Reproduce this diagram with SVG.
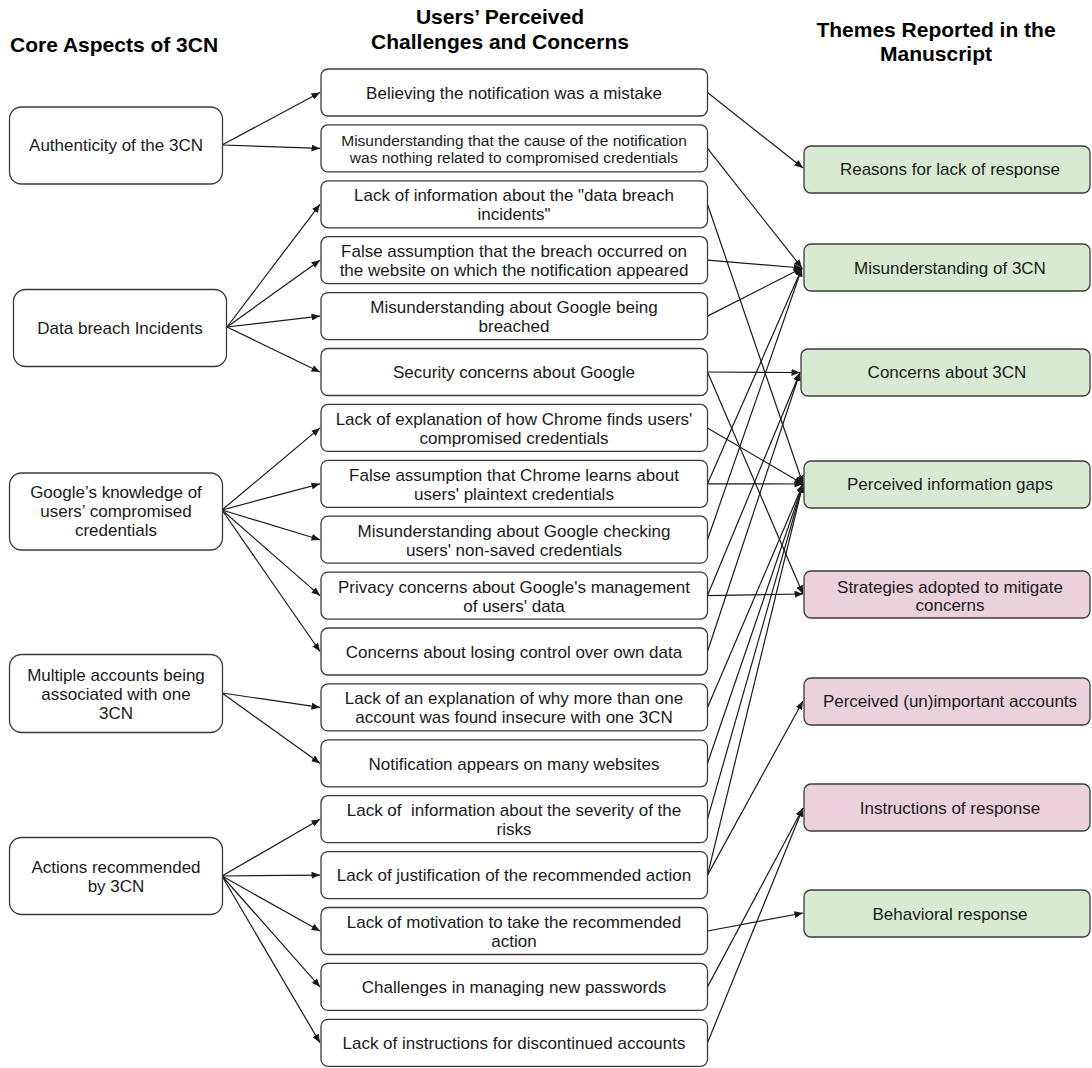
<svg xmlns="http://www.w3.org/2000/svg" width="1092" height="1068" viewBox="0 0 1092 1068">
<style>
.bg{fill:#fff}
.box{fill:#fff;stroke:#3c3c3c;stroke-width:1.3}
.g{fill:#d9ead3;stroke:#3c3c3c;stroke-width:1.3}
.p{fill:#ead1dc;stroke:#3c3c3c;stroke-width:1.3}
text{font-family:"Liberation Sans",Arial,sans-serif;fill:#1a1a1a}
.t{font-size:17px;text-anchor:middle}
.ts{font-size:15.5px;text-anchor:middle}
.h{font-size:21px;font-weight:bold;fill:#000}
.hc{text-anchor:middle}
.c line{stroke:#1a1a1a;stroke-width:1.2;marker-end:url(#ah)}
</style>
<defs>
<marker id="ah" markerUnits="userSpaceOnUse" markerWidth="9" markerHeight="7" refX="8.5" refY="3.5" orient="auto">
<path d="M0,0 L8.5,3.5 L0,7 z" fill="#1a1a1a"/>
</marker>
</defs>
<rect class="bg" x="0" y="0" width="1092" height="1068"/>

<g id="headers">
<text class="h" x="10" y="52">Core Aspects of 3CN</text>
<text class="h hc" x="500" y="24">Users’ Perceived</text>
<text class="h hc" x="500" y="49">Challenges and Concerns</text>
<text class="h hc" x="936" y="37">Themes Reported in the</text>
<text class="h hc" x="936" y="61">Manuscript</text>
</g>

<g id="connectors" class="c">
<line x1="222" y1="145" x2="320" y2="92.5"/>
<line x1="222" y1="145" x2="320" y2="148.4"/>
<line x1="227" y1="327" x2="320" y2="204.3"/>
<line x1="227" y1="327" x2="320" y2="260.2"/>
<line x1="227" y1="327" x2="320" y2="316.1"/>
<line x1="227" y1="327" x2="320" y2="372"/>
<line x1="222" y1="510" x2="320" y2="427.9"/>
<line x1="222" y1="510" x2="320" y2="483.8"/>
<line x1="222" y1="510" x2="320" y2="539.7"/>
<line x1="222" y1="510" x2="320" y2="595.6"/>
<line x1="222" y1="510" x2="320" y2="651.5"/>
<line x1="222" y1="693" x2="320" y2="707.4"/>
<line x1="222" y1="693" x2="320" y2="763.3"/>
<line x1="222" y1="876" x2="320" y2="819.2"/>
<line x1="222" y1="876" x2="320" y2="875.1"/>
<line x1="222" y1="876" x2="320" y2="931"/>
<line x1="222" y1="876" x2="320" y2="986.9"/>
<line x1="222" y1="876" x2="320" y2="1042.8"/>

<line x1="707.5" y1="92.5" x2="803" y2="168"/>
<line x1="707.5" y1="148.4" x2="802" y2="268"/>
<line x1="707.5" y1="204.3" x2="803" y2="484"/>
<line x1="707.5" y1="260.2" x2="802" y2="268"/>
<line x1="707.5" y1="316.1" x2="802" y2="268"/>
<line x1="707.5" y1="372" x2="800" y2="372.5"/>
<line x1="707.5" y1="372" x2="803" y2="594"/>
<line x1="707.5" y1="427.9" x2="803" y2="484"/>
<line x1="707.5" y1="483.8" x2="803" y2="484"/>
<line x1="707.5" y1="483.8" x2="802" y2="268"/>
<line x1="707.5" y1="539.7" x2="802" y2="268"/>
<line x1="707.5" y1="595.6" x2="803" y2="594"/>
<line x1="707.5" y1="595.6" x2="800" y2="372.5"/>
<line x1="707.5" y1="651.5" x2="800" y2="372.5"/>
<line x1="707.5" y1="707.4" x2="803" y2="484"/>
<line x1="707.5" y1="763.3" x2="803" y2="484"/>
<line x1="707.5" y1="819.2" x2="803" y2="484"/>
<line x1="707.5" y1="875.1" x2="803" y2="484"/>
<line x1="707.5" y1="875.1" x2="803" y2="701"/>
<line x1="707.5" y1="931" x2="803" y2="913"/>
<line x1="707.5" y1="986.9" x2="803" y2="808"/>
<line x1="707.5" y1="1042.8" x2="803" y2="808"/>
</g>

<g id="left-authenticity"><rect class="box" x="9.5" y="107" width="213" height="77" rx="12"/><text class="t" x="116" y="151">Authenticity of the 3CN</text></g>
<g id="left-databreach"><rect class="box" x="13.5" y="289.5" width="213" height="77" rx="12"/><text class="t" x="120" y="334">Data breach Incidents</text></g>
<g id="left-google"><rect class="box" x="9.5" y="473" width="213" height="77" rx="12"/><text class="t" x="116" y="497.5">Google’s knowledge of</text><text class="t" x="116" y="517">users’ compromised</text><text class="t" x="116" y="536">credentials</text></g>
<g id="left-multiple"><rect class="box" x="9.5" y="654.5" width="213" height="78" rx="12"/><text class="t" x="116" y="681">Multiple accounts being</text><text class="t" x="116" y="700">associated with one</text><text class="t" x="116" y="719">3CN</text></g>
<g id="left-actions"><rect class="box" x="9.5" y="837.5" width="213" height="77" rx="12"/><text class="t" x="116" y="872.5">Actions recommended</text><text class="t" x="116" y="892">by 3CN</text></g>

<g id="m1"><rect class="box" x="321" y="69" width="386.5" height="47" rx="7"/><text class="t" x="514" y="98.5">Believing the notification was a mistake</text></g>
<g id="m2"><rect class="box" x="321" y="124.9" width="386.5" height="47" rx="7"/><text class="ts" x="514" y="146">Misunderstanding that the cause of the notification</text><text class="ts" x="514" y="163">was nothing related to compromised credentials</text></g>
<g id="m3"><rect class="box" x="321" y="180.8" width="386.5" height="47" rx="7"/><text class="t" x="514" y="201">Lack of information about the "data breach</text><text class="t" x="514" y="220">incidents"</text></g>
<g id="m4"><rect class="box" x="321" y="236.7" width="386.5" height="47" rx="7"/><text class="t" x="514" y="257">False assumption that the breach occurred on</text><text class="t" x="514" y="276">the website on which the notification appeared</text></g>
<g id="m5"><rect class="box" x="321" y="292.6" width="386.5" height="47" rx="7"/><text class="t" x="514" y="313">Misunderstanding about Google being</text><text class="t" x="514" y="332">breached</text></g>
<g id="m6"><rect class="box" x="321" y="348.5" width="386.5" height="47" rx="7"/><text class="t" x="514" y="378">Security concerns about Google</text></g>
<g id="m7"><rect class="box" x="321" y="404.4" width="386.5" height="47" rx="7"/><text class="t" x="514" y="424.5">Lack of explanation of how Chrome finds users'</text><text class="t" x="514" y="443.5">compromised credentials</text></g>
<g id="m8"><rect class="box" x="321" y="460.3" width="386.5" height="47" rx="7"/><text class="t" x="514" y="480.5">False assumption that Chrome learns about</text><text class="t" x="514" y="499.5">users' plaintext credentials</text></g>
<g id="m9"><rect class="box" x="321" y="516.2" width="386.5" height="47" rx="7"/><text class="t" x="514" y="536.5">Misunderstanding about Google checking</text><text class="t" x="514" y="555.5">users' non-saved credentials</text></g>
<g id="m10"><rect class="box" x="321" y="572.1" width="386.5" height="47" rx="7"/><text class="t" x="514" y="592.5">Privacy concerns about Google's management</text><text class="t" x="514" y="611.5">of users' data</text></g>
<g id="m11"><rect class="box" x="321" y="628" width="386.5" height="47" rx="7"/><text class="t" x="514" y="657.5">Concerns about losing control over own data</text></g>
<g id="m12"><rect class="box" x="321" y="683.9" width="386.5" height="47" rx="7"/><text class="t" x="514" y="704">Lack of an explanation of why more than one</text><text class="t" x="514" y="723">account was found insecure with one 3CN</text></g>
<g id="m13"><rect class="box" x="321" y="739.8" width="386.5" height="47" rx="7"/><text class="t" x="514" y="769.5">Notification appears on many websites</text></g>
<g id="m14"><rect class="box" x="321" y="795.7" width="386.5" height="47" rx="7"/><text class="t" x="514" y="816" xml:space="preserve">Lack of  information about the severity of the</text><text class="t" x="514" y="835">risks</text></g>
<g id="m15"><rect class="box" x="321" y="851.6" width="386.5" height="47" rx="7"/><text class="t" x="514" y="881">Lack of justification of the recommended action</text></g>
<g id="m16"><rect class="box" x="321" y="907.5" width="386.5" height="47" rx="7"/><text class="t" x="514" y="928">Lack of motivation to take the recommended</text><text class="t" x="514" y="947">action</text></g>
<g id="m17"><rect class="box" x="321" y="963.4" width="386.5" height="47" rx="7"/><text class="t" x="514" y="993">Challenges in managing new passwords</text></g>
<g id="m18"><rect class="box" x="321" y="1019.3" width="386.5" height="47" rx="7"/><text class="t" x="514" y="1049">Lack of instructions for discontinued accounts</text></g>

<g id="r-reasons"><rect class="g" x="804" y="146" width="286" height="47" rx="7"/><text class="t" x="950" y="175">Reasons for lack of response</text></g>
<g id="r-misunderstanding"><rect class="g" x="804" y="244" width="286" height="47" rx="7"/><text class="t" x="950" y="273.5">Misunderstanding of 3CN</text></g>
<g id="r-concerns"><rect class="g" x="801" y="349" width="289" height="47" rx="7"/><text class="t" x="947" y="378">Concerns about 3CN</text></g>
<g id="r-gaps"><rect class="g" x="804" y="461" width="286" height="47" rx="7"/><text class="t" x="950" y="490">Perceived information gaps</text></g>
<g id="r-strategies"><rect class="p" x="804" y="571" width="286" height="47" rx="7"/><text class="t" x="950" y="592.5">Strategies adopted to mitigate</text><text class="t" x="950" y="611">concerns</text></g>
<g id="r-unimportant"><rect class="p" x="804" y="678" width="286" height="47" rx="7"/><text class="t" x="950" y="707">Perceived (un)important accounts</text></g>
<g id="r-instructions"><rect class="p" x="804" y="784" width="286" height="47" rx="7"/><text class="t" x="950" y="813.5">Instructions of response</text></g>
<g id="r-behavioral"><rect class="g" x="804" y="890" width="286" height="47" rx="7"/><text class="t" x="950" y="919.5">Behavioral response</text></g>
</svg>
